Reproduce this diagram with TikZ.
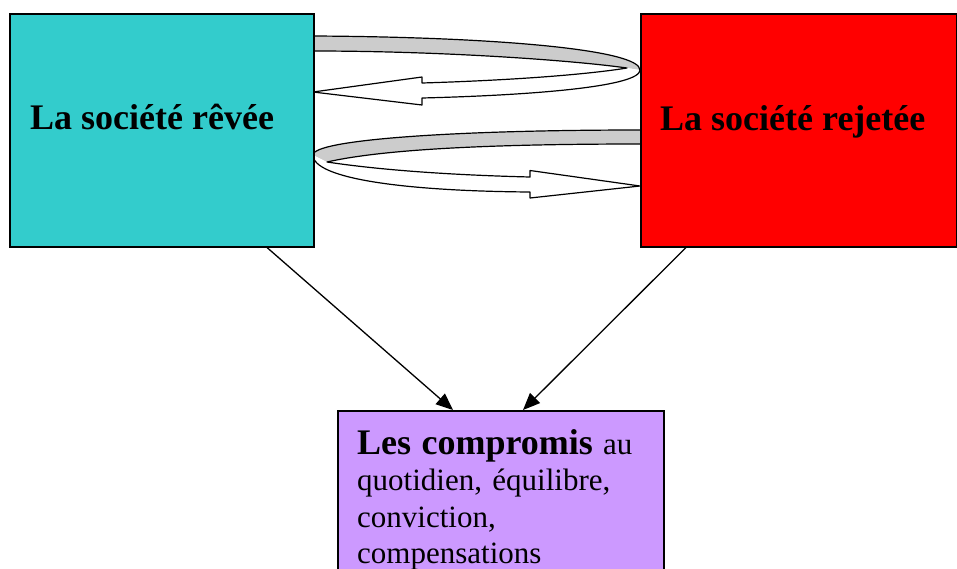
\documentclass[tikz,border=0pt]{standalone}
\usepackage{fontspec}
\setmainfont{Liberation Serif}
\usetikzlibrary{arrows.meta}
\definecolor{dreamcol}{HTML}{33CCCC}
\definecolor{rejcol}{HTML}{FF0000}
\definecolor{compcol}{HTML}{CC99FF}
\definecolor{ribgray}{HTML}{CCCCCC}
\tikzset{
  boxstyle/.style={draw=black, line width=1.5pt, rectangle, inner sep=0pt, anchor=north west},
  titletext/.style={anchor=base west, inner sep=0pt, font=\fontsize{36}{40}\selectfont\bfseries},
  ribline/.style={draw=black, line width=1.2pt, line join=round},
  arr/.style={draw=black, line width=1.3pt, -{Triangle[length=17pt,width=14pt]}}
}
\begin{document}
\begin{tikzpicture}[x=1pt,y=-1pt]
\clip (0,0) rectangle (957,568);
\fill[white] (0,0) rectangle (957,568);
% upper ribbon
\fill[ribgray] (313,36) .. controls (500,37) and (640,50) .. (640,70) -- (627,68)
   .. controls (570,60) and (440,51) .. (313,51) -- cycle;
\fill[white] (640,70) .. controls (640,86) and (540,95) .. (422,98) -- (422,105) -- (313,92) -- (422,77) -- (422,83)
   .. controls (520,80) and (590,74) .. (627,68) -- cycle;
\draw[ribline] (313,36) .. controls (500,37) and (640,50) .. (640,70)
   .. controls (640,86) and (540,95) .. (422,98) -- (422,105) -- (313,92) -- (422,77) -- (422,83)
   .. controls (520,80) and (590,74) .. (627,68)
   .. controls (570,60) and (440,51) .. (313,51);
% lower ribbon
\fill[ribgray] (640,130) .. controls (450,130) and (313,140) .. (313,155) -- (327,162)
   .. controls (380,150) and (480,144) .. (640,144) -- cycle;
\fill[white] (313,155) .. controls (313,178) and (400,191) .. (530,192) -- (530,198) -- (640,186) -- (530,170.5) -- (530,177)
   .. controls (450,175) and (380,170) .. (327,162) -- cycle;
\draw[ribline] (640,130) .. controls (450,130) and (313,140) .. (313,155)
   .. controls (313,178) and (400,191) .. (530,192) -- (530,198) -- (640,186) -- (530,170.5) -- (530,177)
   .. controls (450,175) and (380,170) .. (327,162)
   .. controls (380,150) and (480,144) .. (640,144);
% boxes
\node[boxstyle, fill=dreamcol, minimum width=304pt, minimum height=233pt] (dream) at (9,13) {};
\node[boxstyle, fill=rejcol, minimum width=316pt, minimum height=233pt] (rej) at (640,13) {};
\node[boxstyle, fill=compcol, minimum width=326pt, minimum height=200pt] (comp) at (337,410) {};
% texts
\node[titletext] (dreamtxt) at (30,129) {La société rêvée};
\node[titletext] (rejtxt) at (660,130) {La société rejetée};
\node[anchor=base west, inner sep=0pt, text width=300pt, align=left,
      font=\fontsize{31}{36.5}\selectfont] (comptxt) at (357,454)
  {{\fontsize{36}{36.5}\selectfont\bfseries Les compromis} au\\quotidien, équilibre,\\conviction,\\compensations};
% arrows
\draw[arr] ([xshift=258pt]dream.south west) -- ([xshift=116pt]comp.north west);
\draw[arr] ([xshift=46pt]rej.south west) -- ([xshift=186pt]comp.north west);
\end{tikzpicture}
\end{document}
